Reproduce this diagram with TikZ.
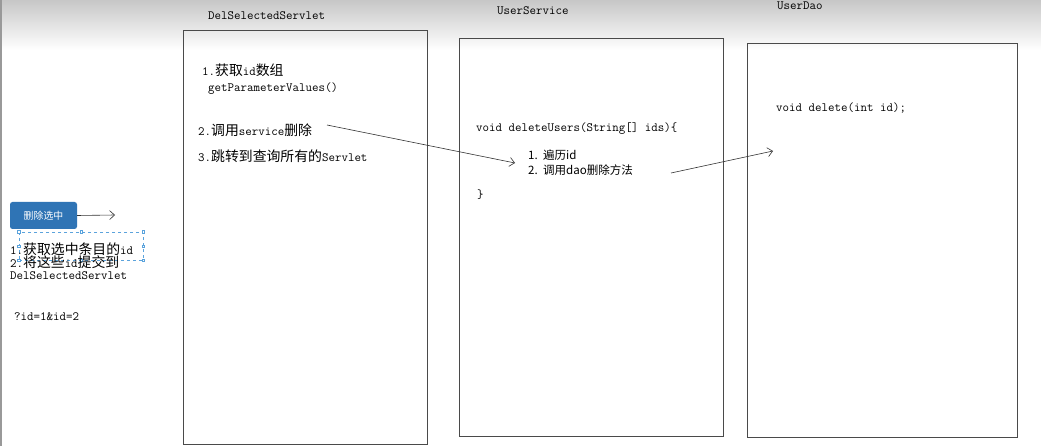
\documentclass[tikz,border=0pt]{standalone}
\usepackage{fontspec}
\newfontfamily\cjk[Scale=1.1]{Noto Sans CJK SC}
\usetikzlibrary{arrows.meta}
\newcommand\zh[1]{{\cjk #1}}
\definecolor{btnblue}{HTML}{2F74B5}
\definecolor{selblue}{HTML}{5BA3DC}
\definecolor{boxgray}{HTML}{4A4A4A}
\tikzset{
  box/.style={draw=boxgray, line width=0.9pt, anchor=north west, inner sep=0pt},
  txt/.style={anchor=west, inner sep=0pt, font=\ttfamily\fontsize{12.6}{14}\selectfont, text=black},
  ttl/.style={txt},
  lst/.style={anchor=west, inner sep=0pt, font=\cjk\fontsize{10.5}{12}\selectfont, text=black},
  flow/.style={draw=black!80, line width=0.6pt, -{Straight Barb[length=5pt,width=9pt]}},
  handle/.style={draw=selblue, fill=white, line width=0.4pt, minimum size=2.5pt, inner sep=0pt}
}
\begin{document}
\begin{tikzpicture}[x=1pt,y=-1pt]
\useasboundingbox (0,0) rectangle (1041,446);
\fill[white] (0,0) rectangle (1041,446);
\shade[top color=black!22, bottom color=white] (0,0) rectangle (1041,50);
\fill[black!40] (0,0) rectangle (2,446);

% boxes
\node[box, minimum width=244pt, minimum height=414pt] (servlet) at (183,30) {};
\node[box, minimum width=264pt, minimum height=398pt] (service) at (459,38) {};
\node[box, minimum width=270pt, minimum height=394pt] (dao) at (747,43) {};

% titles
\node[ttl] (t1) at (208,16) {DelSelectedServlet};
\node[ttl] (t2) at (497,11) {UserService};
\node[ttl] (t3) at (777,6) {UserDao};

% left side
\node[fill=btnblue, rounded corners=2.5pt, minimum width=67pt, minimum height=27pt, inner sep=0pt,
      text=white, font=\cjk\fontsize{9}{10}\selectfont] (btn) at (43.5,215.5) {删除选中};
\coordinate (btnend) at (115,215);
\draw[flow] (btn.east) -- (btnend);

\node[draw=selblue, dashed, line width=0.6pt, minimum width=124pt, minimum height=28pt, inner sep=0pt] (sel) at (81,246) {};
\foreach \a in {north west,north,north east,east,south east,south,south west,west}
  \node[handle] at (sel.\a) {};

\node[txt] (l1) at (10,249) {1.\zh{获取选中条目的}id};
\node[txt] (l2) at (10,262) {2.\zh{将这些}id\zh{提交到}};
\node[txt] (l3) at (10,276) {DelSelectedServlet};
\node[txt] (q) at (14,317) {?id=1\&id=2};

% servlet box content
\node[txt] (s1) at (202,70) {1.\zh{获取}id\zh{数组}};
\node[txt] (s1b) at (208,89) {getParameterValues()};
\node[txt] (s2) at (198,130) {2.\zh{调用}service\zh{删除}};
\node[txt] (s3) at (198,156) {3.\zh{跳转到查询所有的}Servlet};

% service box content
\node[txt] (m) at (476,129) {void deleteUsers(String[] ids)\{};
\node[lst] (m1) at (528,155) {1.\ \ 遍历id};
\node[lst] (m2) at (528,170) {2.\ \ 调用dao删除方法};
\node[txt] (mc) at (477,195) {\}};

% dao box content
\node[txt] (d) at (776,108) {void delete(int id);};

% connectors
\coordinate (a1s) at (327,125);
\coordinate (a1e) at (515,163);
\draw[flow] (a1s) -- (a1e);
\coordinate (a2s) at (671,173);
\coordinate (a2e) at (773,151);
\draw[flow] (a2s) -- (a2e);
\end{tikzpicture}
\end{document}
